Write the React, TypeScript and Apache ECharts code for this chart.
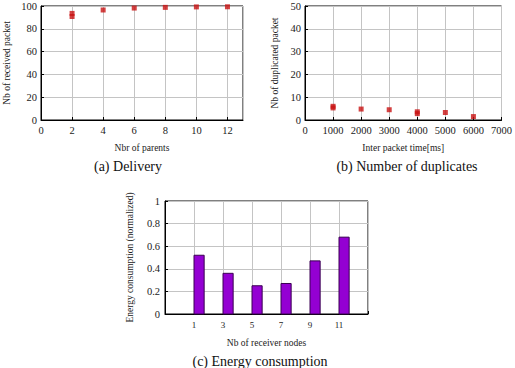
import React, { useEffect, useRef } from "react";
import * as echarts from "echarts";

// (a) Delivery: received packets vs. number of parents (repeated runs share an x)
const parentCounts = [2, 2, 4, 6, 8, 10, 12];
const receivedPackets = [93.5, 90.8, 96.5, 98.2, 98.8, 99.2, 99.3];

// (b) Duplicates: duplicated packets vs. inter packet time
const interPacketTimes = [1000, 1000, 2000, 3000, 4000, 4000, 5000, 6000];
const duplicatedPackets = [6.0, 5.3, 4.8, 4.5, 3.6, 2.8, 3.3, 1.5];

// (c) Energy consumption per number of receiver nodes
const receiverNodes = [1, 3, 5, 7, 9, 11];
const energyConsumption = [0.52, 0.36, 0.25, 0.27, 0.47, 0.68];

const captions = ["(a) Delivery", "(b) Number of duplicates", "(c) Energy consumption"];

const SERIF = "Liberation Serif";
const POINT_COLOR = "#c81212";
const BAR_COLOR = "#9400d3";
const BAR_SPAN = 0.7;

const axisCommon = {
  axisLine: { show: true, onZero: false, lineStyle: { color: "#000", width: 1 } },
  axisTick: { show: true, inside: true, length: 3, lineStyle: { color: "#000" } },
  splitLine: { show: true, lineStyle: { color: "#c4c4c4", width: 1 } },
  nameTextStyle: { fontFamily: SERIF, fontSize: 9.5, color: "#222" },
};

const labelStyle = (size: number, margin: number) => ({
  fontFamily: SERIF,
  fontSize: size,
  color: "#222",
  margin,
  formatter: (v: number) => String(v),
});

export default function App() {
  const ref = useRef<HTMLDivElement>(null);

  useEffect(() => {
    if (!ref.current) return;
    const chart = echarts.init(ref.current, undefined, { renderer: "svg" });

    const gridBox = { show: true, borderColor: "#000", borderWidth: 1, backgroundColor: "transparent" };

    chart.setOption({
      animation: false,
      backgroundColor: "#fff",
      textStyle: { fontFamily: SERIF },
      grid: [
        { ...gridBox, left: 41, top: 6, width: 202, height: 114 },
        { ...gridBox, left: 305, top: 6, width: 207, height: 114 },
        { ...gridBox, left: 165, top: 201, width: 203, height: 113 },
      ],
      xAxis: [
        {
          ...axisCommon,
          type: "value",
          gridIndex: 0,
          min: 0,
          max: 13,
          interval: 2,
          name: "Nbr of parents",
          nameLocation: "middle",
          nameGap: 23,
          axisLabel: { ...labelStyle(10.5, 5), showMaxLabel: false },
        },
        {
          ...axisCommon,
          type: "value",
          gridIndex: 1,
          min: 0,
          max: 7000,
          interval: 1000,
          name: "Inter packet time[ms]",
          nameLocation: "middle",
          nameGap: 23,
          axisLabel: labelStyle(10.5, 5),
        },
        {
          ...axisCommon,
          type: "value",
          gridIndex: 2,
          min: -1,
          max: 13,
          interval: 2,
          name: "Nb of receiver nodes",
          nameLocation: "middle",
          nameGap: 24,
          axisLabel: {
            ...labelStyle(9, 6),
            formatter: (v: number) => (v < 0 || v > 12 ? "" : String(v)),
          },
        },
      ],
      yAxis: [
        {
          ...axisCommon,
          type: "value",
          gridIndex: 0,
          min: 0,
          max: 100,
          interval: 20,
          name: "Nb of received packet",
          nameLocation: "middle",
          nameGap: 29,
          axisLabel: labelStyle(10.5, 4),
        },
        {
          ...axisCommon,
          type: "value",
          gridIndex: 1,
          min: 0,
          max: 50,
          interval: 10,
          name: "Nb of duplicated packet",
          nameLocation: "middle",
          nameGap: 25,
          axisLabel: labelStyle(10.5, 4),
        },
        {
          ...axisCommon,
          type: "value",
          gridIndex: 2,
          min: 0,
          max: 1,
          interval: 0.2,
          name: "Energy consumption (normalized)",
          nameLocation: "middle",
          nameGap: 30,
          axisLabel: labelStyle(10.5, 5),
        },
      ],
      series: [
        {
          type: "scatter",
          xAxisIndex: 0,
          yAxisIndex: 0,
          symbol: "rect",
          symbolSize: 5,
          itemStyle: { color: POINT_COLOR },
          data: parentCounts.map((x, i) => [x, receivedPackets[i]]),
          clip: false,
        },
        {
          type: "scatter",
          xAxisIndex: 1,
          yAxisIndex: 1,
          symbol: "rect",
          symbolSize: 5,
          itemStyle: { color: POINT_COLOR },
          data: interPacketTimes.map((x, i) => [x, duplicatedPackets[i]]),
        },
        {
          type: "custom",
          xAxisIndex: 2,
          yAxisIndex: 2,
          encode: { x: 0, y: 1 },
          data: receiverNodes.map((x, i) => [x, energyConsumption[i]]),
          renderItem: (_params: any, api: any) => {
            const x = api.value(0);
            const y = api.value(1);
            const top = api.coord([x, y]);
            const base = api.coord([x, 0]);
            const w = api.size([BAR_SPAN, 0])[0];
            return {
              type: "rect",
              shape: { x: base[0], y: top[1], width: w, height: base[1] - top[1] },
              style: { fill: BAR_COLOR, stroke: "#3a0052", lineWidth: 1 },
            };
          },
        },
      ],
      graphic: [
        { x: 128, y: 166, text: captions[0] },
        { x: 407, y: 166, text: captions[1] },
        { x: 260, y: 361, text: captions[2] },
      ].map((c) => ({
        type: "text",
        x: c.x,
        y: c.y,
        style: {
          text: c.text,
          fontFamily: SERIF,
          fontSize: 14,
          fill: "#111",
          textAlign: "center",
          textVerticalAlign: "middle",
        },
      })),
    });

    return () => chart.dispose();
  }, []);

  return (
    <div
      ref={ref}
      style={{ position: "fixed", left: 0, top: 0, width: 515, height: 368, background: "#fff" }}
    />
  );
}
